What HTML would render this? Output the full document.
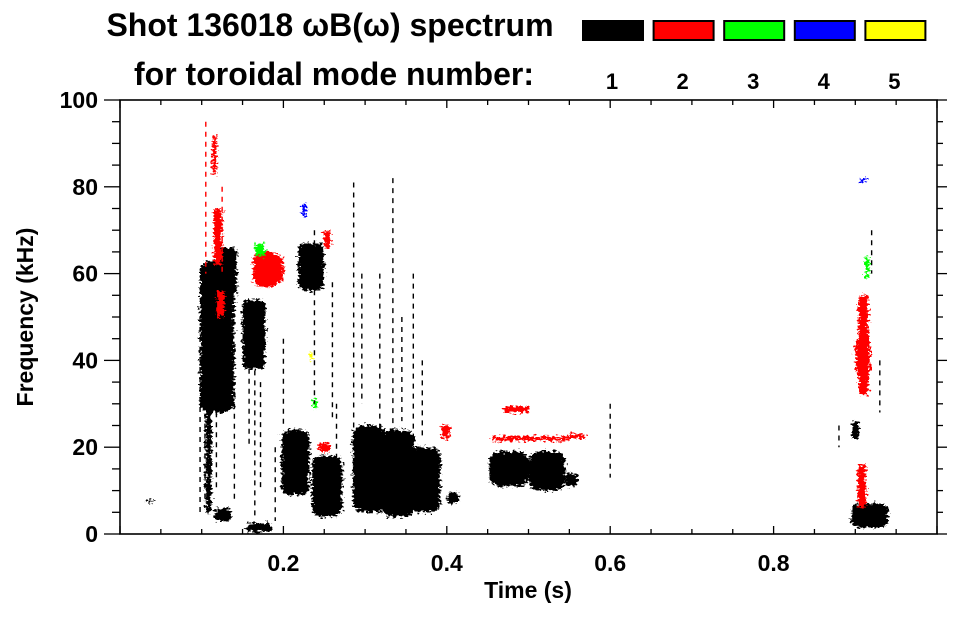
<!DOCTYPE html>
<html><head><meta charset="utf-8">
<style>
html,body{margin:0;padding:0;background:#fff;}
body{width:963px;height:615px;overflow:hidden;font-family:"Liberation Sans",sans-serif;}
text{font-family:"Liberation Sans",sans-serif;font-weight:bold;fill:#000;}
</style></head>
<body>
<svg id="chart" width="963" height="615" viewBox="0 0 963 615" xmlns="http://www.w3.org/2000/svg">
<defs>
<filter id="rough" x="-20%" y="-20%" width="140%" height="140%">
<feTurbulence type="fractalNoise" baseFrequency="0.3 0.5" numOctaves="2" seed="3" result="n"/>
<feDisplacementMap in="SourceGraphic" in2="n" scale="10" xChannelSelector="R" yChannelSelector="G"/>
</filter>
</defs>
<text x="330" y="36" font-size="32" text-anchor="middle">Shot 136018 ωB(ω) spectrum</text>
<text x="334" y="85" font-size="32" text-anchor="middle">for toroidal mode number:</text>
<g id="legend"></g>
<g id="marks"></g>
<g id="streaks"></g>
<g id="axes"></g>
<text x="528" y="598" font-size="23" text-anchor="middle">Time (s)</text>
<text transform="translate(33,317) rotate(-90)" font-size="23" text-anchor="middle">Frequency (kHz)</text>
</svg>
<script>
const modeLabels = ["1","2","3","4","5"];
const modeColors = ["#000000","#ff0000","#00ff00","#0000ff","#ffff00"];
const xTicks = [0.2,0.4,0.6,0.8];
const yTicks = [0,20,40,60,80,100];
// blobs: time range (s), frequency range (kHz), mode
const blobT0 = [0.098,0.12,0.15,0.155,0.198,0.235,0.218,0.285,0.32,0.355,0.40,0.452,0.50,0.545,0.895,0.896,0.116,0.033,0.105,
  0.118,0.115,0.163,0.19,0.25,0.243,0.393,0.904,0.9,0.903,0.113,0.455,0.55,0.47,
  0.165,0.236,0.912,0.223,0.906,0.232];
const blobT1 = [0.14,0.143,0.178,0.185,0.232,0.272,0.25,0.325,0.36,0.392,0.415,0.50,0.545,0.56,0.94,0.904,0.136,0.04,0.112,
  0.128,0.125,0.195,0.2,0.258,0.258,0.404,0.916,0.918,0.913,0.118,0.55,0.57,0.5,
  0.178,0.242,0.917,0.228,0.914,0.235];
const blobF0 = [28,55,38,0.5,9,4,56,5,4,5,7,11,10,11,1.5,22,3,7,5,
  50,62,57,58,66,19,22,32,37,6,83,21.5,22,28,
  64,29,59,73,81,40];
const blobF1 = [63,66,54,2.5,24,18,67,25,24,20,9.5,19,19,14,7,26,6,8,45,
  56,75,65,64,70,21,25,55,45,16,92,22.5,23,29.5,
  67,31,64,76,82,42];
const blobMode = [1,1,1,1,1,1,1,1,1,1,1,1,1,1,1,1,1,1,1,
  2,2,2,2,2,2,2,2,2,2,2,2,2,2,
  3,3,3,4,4,5];
// thin vertical streaks
const streakT = [0.098,0.104,0.11,0.118,0.135,0.14,0.158,0.165,0.172,0.19,0.2,0.238,0.265,0.286,0.296,0.318,0.334,0.345,0.359,0.37,0.105,0.125,0.26,0.6,0.88,0.92,0.93];
const streakF0 = [5,8,20,10,30,8,20,4,10,3,25,30,5,24,30,22,22,26,22,22,60,60,26,13,20,60,28];
const streakF1 = [50,60,40,58,60,30,45,40,35,20,45,70,30,81,60,60,82,50,60,40,95,80,58,30,25,70,40];
const streakMode = [1,1,1,1,1,1,1,1,1,1,1,1,1,1,1,1,1,1,1,1,2,2,1,1,1,1,1];

const X0=120, X1=937, Y0=534, Y1=100;
const xs = t => X0 + t*(X1-X0);
const ys = f => Y0 - f/100*(Y0-Y1);
const NS="http://www.w3.org/2000/svg";
function mk(tag, attrs, parent){const e=document.createElementNS(NS,tag);for(const k in attrs)e.setAttribute(k,attrs[k]);parent.appendChild(e);return e;}

const leg=document.getElementById('legend');
for(let i=0;i<modeLabels.length;i++){
  const x=582+i*70.6;
  const r=mk('rect',{x:x+1,y:21,width:60,height:19,fill:modeColors[i],stroke:'#000','stroke-width':2},leg);
  
  
  const t=mk('text',{x:x+30,y:89,'font-size':22,'text-anchor':'middle'},leg);
  t.textContent=modeLabels[i];
  
  
}

const marks=document.getElementById('marks');
const rough=mk('g',{filter:'url(#rough)'},marks);
for(let i=0;i<blobT0.length;i++){
  const x0=xs(blobT0[i]),x1=xs(blobT1[i]),y0=ys(blobF1[i]),y1=ys(blobF0[i]);
  const w=Math.max(2,x1-x0),h=Math.max(2,y1-y0);
  const e=mk('rect',{x:x0,y:y0,width:w,height:h,rx:Math.min(w,h)*0.3,fill:modeColors[blobMode[i]-1]},rough);
  
  
}
const st=document.getElementById('streaks');
for(let i=0;i<streakT.length;i++){
  const l=mk('line',{x1:xs(streakT[i]),x2:xs(streakT[i]),y1:ys(streakF1[i]),y2:ys(streakF0[i]),stroke:modeColors[streakMode[i]-1],'stroke-width':1.4,'stroke-dasharray':'5 5'},st);
  
  
}

const ax=document.getElementById('axes');
const fr=mk('rect',{x:X0,y:Y1,width:X1-X0,height:Y0-Y1,fill:'none',stroke:'#000','stroke-width':1.6},ax);


for(let k=0;k<=20;k++){
  const t=k*0.05,x=xs(t),major=(k%4===0);
  const L=major?8:5;
  mk('line',{x1:x,x2:x,y1:Y0,y2:Y0-L,stroke:'#000','stroke-width':1.3},ax);
  mk('line',{x1:x,x2:x,y1:Y1,y2:Y1+L,stroke:'#000','stroke-width':1.3},ax);
}
for(const t of xTicks){
  const tx=mk('text',{x:xs(t),y:571,'font-size':23,'text-anchor':'middle'},ax);
  tx.textContent=String(t);
  
  
}
for(let k=0;k<=20;k++){
  const f=k*5,y=ys(f),major=(k%4===0);
  const L=major?16:8;
  mk('line',{x1:X0,x2:X0-L,y1:y,y2:y,stroke:'#000','stroke-width':1.3},ax);
  mk('line',{x1:X1,x2:X1+(major?10:6),y1:y,y2:y,stroke:'#000','stroke-width':1.3},ax);
}
for(const f of yTicks){
  const ty=mk('text',{x:98,y:ys(f)+8,'font-size':23,'text-anchor':'end'},ax);
  ty.textContent=String(f);
  
  
}
</script>
</body></html>
